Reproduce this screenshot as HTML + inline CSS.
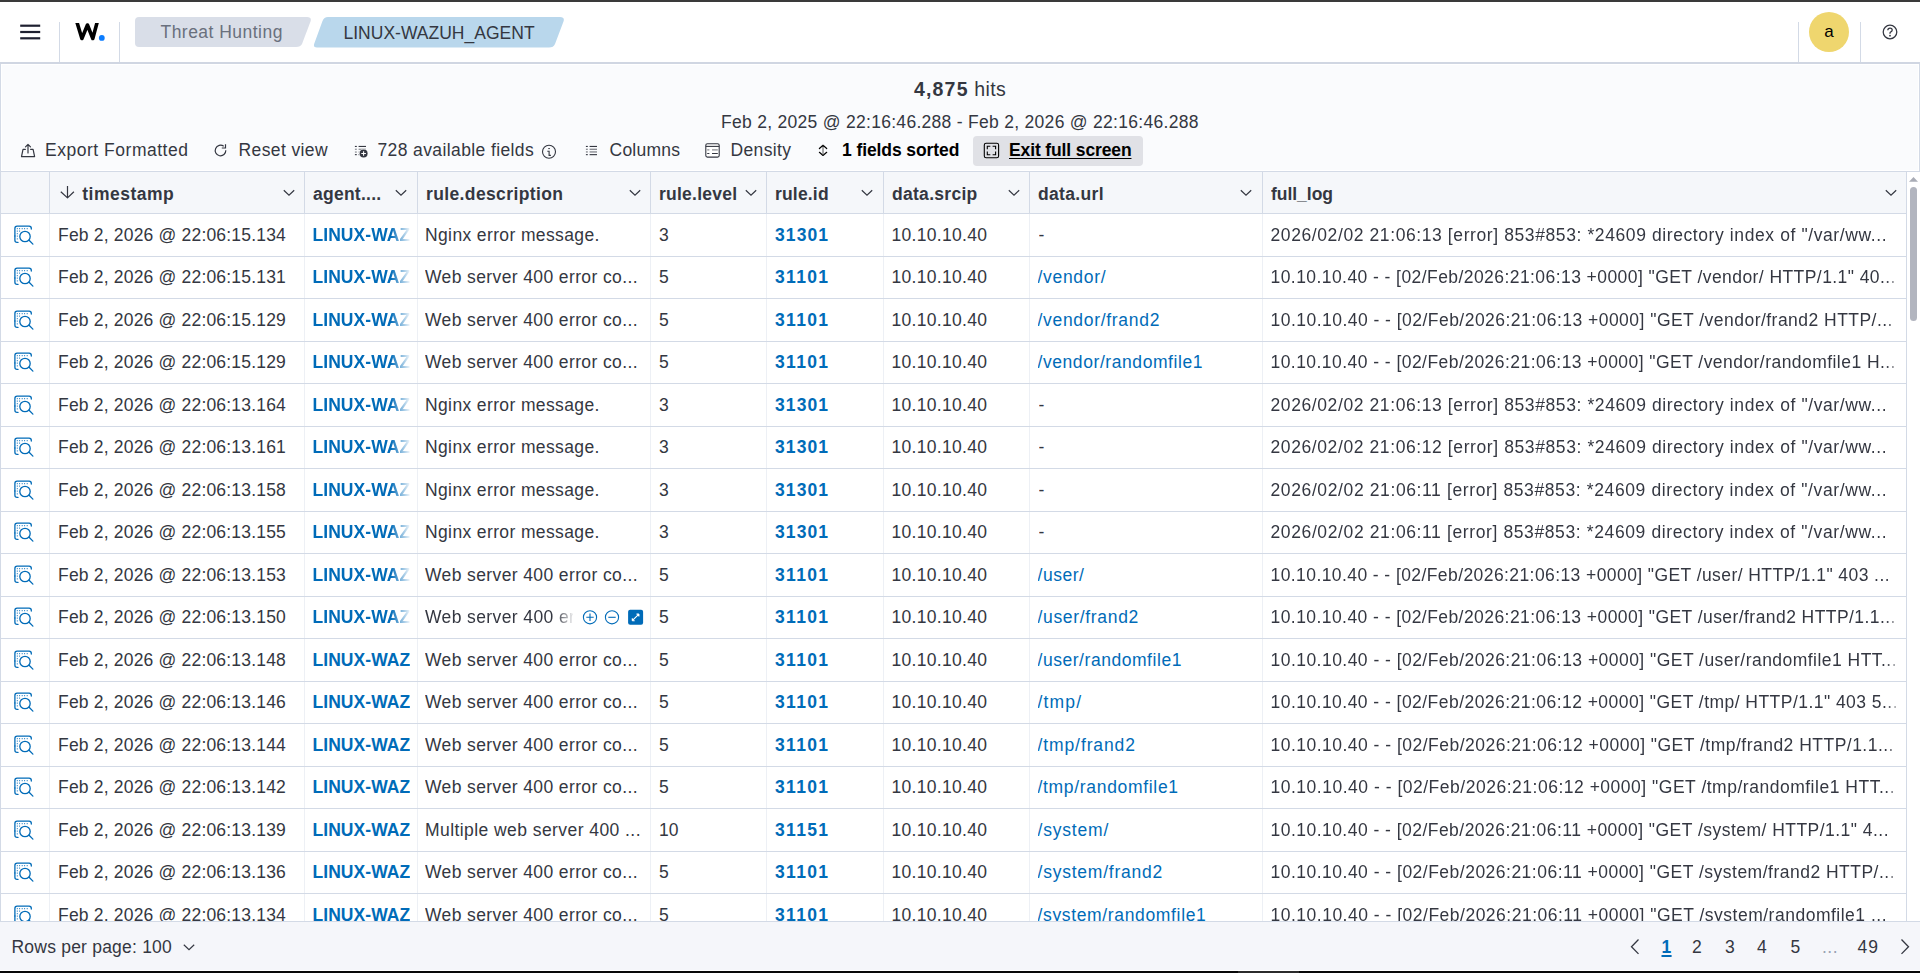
<!DOCTYPE html>
<html><head><meta charset="utf-8"><style>
*{box-sizing:border-box;margin:0;padding:0}
html,body{width:1920px;height:973px;overflow:hidden;background:#fff}
body{font-family:"Liberation Sans",sans-serif;color:#343741;font-size:17.5px;position:relative}
.abs{position:absolute}
#topbar{left:0;top:0;width:1920px;height:2px;background:#3a3a3a}
#hdr{left:0;top:2px;width:1920px;height:60px;background:#fff}
.vdiv{position:absolute;top:22px;width:1px;height:40px;background:#D3DAE6}
#hline{left:0;top:62px;width:1920px;height:2px;background:#D0D6E2}
#tb{left:0;top:64px;width:1920px;height:108px;background:#FAFBFD;border-left:1px solid #D3DAE6;border-right:1px solid #D3DAE6;border-bottom:1px solid #D3DAE6;box-shadow:inset 0 0 0 1px #fff}
.t{position:absolute;white-space:nowrap;line-height:20px;letter-spacing:.35px}
.crumb{position:absolute;top:17px;height:30px}
#grid{left:0;top:172px;width:1920px;height:749px;overflow:hidden}
.hrow{position:absolute;left:0;top:0;width:1906px;height:41.5px;background:#F5F7FA;border-bottom:1px solid #D3DAE6}
.row{position:absolute;left:0;width:1906px;height:42.5px;background:#fff}
.hl{position:absolute;left:0;width:1906px;height:1px;background:#D3DAE6}
.c{position:absolute;top:0;height:100%;overflow:hidden;white-space:nowrap;line-height:42.5px}
.vl{position:absolute;top:0;width:1px;height:100%;background:#EDF0F5}
.hvl{position:absolute;top:0;width:1px;height:100%;background:#D3DAE6}
.hc{font-weight:700;top:.6px}
.lnk{color:#006BB8}
.b{font-weight:700}
.chev{position:absolute;top:16.8px}
.insp{position:absolute;left:14px;top:11px}
#foot{left:0;top:921px;width:1920px;height:49px;background:#F5F6FA;border-top:1px solid #D3DAE6}
#bot{left:0;top:971px;width:1920px;height:2px;background:#080808}
</style></head><body>

<div id="topbar" class="abs"></div>
<div id="hdr" class="abs">
<svg class="abs" style="left:20px;top:20px" width="21" height="20" viewBox="0 0 21 20"><g fill="#1E2030"><rect x="0.2" y="2.6" width="20" height="2.2"></rect><rect x="0.2" y="8.9" width="20" height="2.2"></rect><rect x="0.2" y="15.2" width="20" height="2.2"></rect></g></svg>
<div class="vdiv" style="left:59px;top:20px"></div>
<svg class="abs" style="left:0;top:-2px" width="120" height="62" viewBox="0 0 120 62"><clipPath id="wc"><rect x="70" y="23" width="35" height="20"></rect></clipPath><path clip-path="url(#wc)" d="M76.29 20 L77.2 23 L81.9 38.5 L87.45 25 L92.8 38.5 L96.95 23 L97.75 20" fill="none" stroke="#000" stroke-width="3.6" stroke-linejoin="round"></path><circle cx="101.8" cy="37.9" r="2.9" fill="#0B7CFF"></circle></svg>
<div class="vdiv" style="left:119px;top:20px"></div>
<svg class="abs" style="left:134px;top:13px" width="440" height="34" viewBox="0 0 440 34"><path d="M5 2 H173 Q178 2 176.5 6.5 L168 29 Q166.5 32 162 32 H5 Q1 32 1 28 V6 Q1 2 5 2 Z" fill="#D9DEE8"></path><path d="M194 2 H426 Q431 2 429.5 6.5 L421 29 Q419.5 32.5 415 32.5 H183 Q178.8 32.5 180.3 28.5 L188.5 6 Q190 2 194 2 Z" fill="#B9D7EC"></path></svg>
<div class="t" style="left: 160.5px; top: 19.5px; color: rgb(105, 112, 125); font-size: 17.5px; letter-spacing: 0.472px;">Threat Hunting</div>
<div class="t" style="left: 343.5px; top: 21px; color: rgb(52, 55, 65); font-size: 17.5px; letter-spacing: 0.012px;">LINUX-WAZUH_AGENT</div>
<div class="vdiv" style="left:1798px;top:20px"></div>
<div class="abs" style="left:1809px;top:10px;width:40px;height:40px;border-radius:50%;background:#EFD66E;text-align:center;line-height:40px;font-size:17px;color:#000">a</div>
<div class="vdiv" style="left:1860px;top:20px"></div>
<svg class="abs" style="left:1882px;top:22px" width="16" height="16" viewBox="0 0 16 16"><circle cx="8" cy="8" r="6.8" fill="none" stroke="#343741" stroke-width="1.25"></circle><path d="M5.8 6.3 Q5.8 4.1 8 4.1 Q10.2 4.1 10.2 6 Q10.2 7.2 8.8 7.8 Q8 8.1 8 9.3 V9.7" fill="none" stroke="#343741" stroke-width="1.3"></path><circle cx="8" cy="11.7" r=".9" fill="#343741"></circle></svg>
</div>
<div id="hline" class="abs"></div>
<div id="tb" class="abs"></div>
<div class="t" style="left:914px;top:78px;font-size:19.5px;line-height:22px;letter-spacing:.2px"><span class="b" style="letter-spacing: 1.172px;">4,875</span> <span style="letter-spacing: 0.38px;">hits</span></div>
<div class="t" style="left: 721px; top: 111.7px; font-size: 17.5px; letter-spacing: 0.291px;">Feb 2, 2025 @ 22:16:46.288 - Feb 2, 2026 @ 22:16:46.288</div>
<svg class="abs" style="left:16px;top:138px" width="24" height="24" viewBox="0 0 24 24"><g fill="none" stroke="#343741" stroke-width="1.2" stroke-linejoin="round" stroke-linecap="round"><path d="M9.4 11.3 H7 L5.5 18.6 H18.6 L17.1 11.3 H14.6"></path><path d="M12 15 V6.4 M9.5 8.8 L12 6.3 L14.5 8.8"></path></g></svg>
<div class="t" style="left: 45px; top: 140px; letter-spacing: 0.52px;">Export Formatted</div>
<svg class="abs" style="left:208px;top:138px" width="24" height="24" viewBox="0 0 24 24"><g fill="none" stroke="#343741" stroke-width="1.2"><path d="M15.7 8.3 A5.3 5.3 0 1 0 17.8 12.3"></path><path d="M17.5 6.2 V10 H13.8"></path></g></svg>
<div class="t" style="left: 238.5px; top: 140px; letter-spacing: 0.39px;">Reset view</div>
<svg class="abs" style="left:349px;top:140px" width="24" height="24" viewBox="0 0 24 24"><g fill="#343741"><rect x="5.9" y="5.9" width="1.9" height="1.1"></rect><rect x="5.9" y="8.7" width="1.9" height="1.1" opacity=".6"></rect><rect x="5.9" y="11.5" width="1.9" height="1.1" opacity=".6"></rect><rect x="5.9" y="14.1" width="1.9" height="1.1"></rect><rect x="9.6" y="5.9" width="7.4" height="1.1"></rect><rect x="9.6" y="8.7" width="7.4" height="1.1" opacity=".6"></rect><rect x="9.6" y="11.5" width="2" height="1.1" opacity=".6"></rect><rect x="9.6" y="14.1" width="2" height="1.1"></rect><circle cx="14.6" cy="13.5" r="4.6" fill="#FAFBFD"></circle><circle cx="14.6" cy="13.5" r="4"></circle></g><path d="M14.6 11.2 V15.8 M12.3 13.5 H16.9" stroke="#fff" stroke-width="1.1"></path></svg>
<div class="t" style="left: 377.5px; top: 140px; letter-spacing: 0.386px;">728 available fields</div>
<svg class="abs" style="left:536px;top:138px" width="24" height="24" viewBox="0 0 24 24"><circle cx="13" cy="13.7" r="6.5" fill="none" stroke="#343741" stroke-width="1.1"></circle><rect x="12.3" y="10" width="1.5" height="1.1" fill="#343741"></rect><path d="M11.3 13.3 H13.1 V17.4 H14.9" fill="none" stroke="#343741" stroke-width="1.1"></path></svg>
<svg class="abs" style="left:580px;top:138px" width="24" height="24" viewBox="0 0 24 24"><g fill="#343741"><rect x="5.9" y="7.9" width="1.9" height="1.1"></rect><rect x="9.6" y="7.9" width="7.4" height="1.1"></rect><rect x="5.9" y="10.7" width="1.9" height="1.1" opacity=".7"></rect><rect x="9.6" y="10.7" width="7.4" height="1.1" opacity=".7"></rect><rect x="5.9" y="13.4" width="1.9" height="1.1" opacity=".7"></rect><rect x="9.6" y="13.4" width="7.4" height="1.1" opacity=".7"></rect><rect x="5.9" y="16.1" width="1.9" height="1.1"></rect><rect x="9.6" y="16.1" width="7.4" height="1.1"></rect></g></svg>
<div class="t" style="left: 609.5px; top: 140px; letter-spacing: 0.24px;">Columns</div>
<svg class="abs" style="left:700px;top:138px" width="24" height="24" viewBox="0 0 24 24"><rect x="5.8" y="5.7" width="13.4" height="13.4" rx="1.6" fill="#fff" stroke="#343741" stroke-width="1.1"></rect><path d="M5.8 8.4 H19.2" stroke="#343741" stroke-width="1.1"></path><g fill="#343741"><rect x="7.2" y="11.4" width="2.2" height="1" opacity=".7"></rect><rect x="12" y="11.4" width="5.8" height="1" opacity=".7"></rect><rect x="7.2" y="15" width="2.2" height="1"></rect><rect x="12" y="15" width="5.8" height="1"></rect></g></svg>
<div class="t" style="left: 730.5px; top: 140px; letter-spacing: 0.357px;">Density</div>
<svg class="abs" style="left:810px;top:138px" width="24" height="24" viewBox="0 0 24 24"><g fill="none" stroke="#000" stroke-width="1.2" stroke-linecap="round" stroke-linejoin="round"><path d="M9.4 10.5 L13 7.3 L16.7 10.5"></path><path d="M9.4 14.3 L13 17.5 L16.7 14.3"></path></g><path d="M13 7.6 V17.2" stroke="#555" stroke-width="1"></path></svg>
<div class="t b" style="left: 842px; top: 140px; color: rgb(0, 0, 0); letter-spacing: -0.09px;">1 fields sorted</div>
<div class="abs" style="left:973px;top:136px;width:170px;height:29.5px;border-radius:4px;background:#E0E1E6"></div>
<svg class="abs" style="left:978px;top:138px" width="24" height="24" viewBox="0 0 24 24"><rect x="6.3" y="5.2" width="14.3" height="14.5" rx="1.8" fill="none" stroke="#000" stroke-width="1.1"></rect><g fill="none" stroke="#000" stroke-width="1.1"><path d="M9.3 11.3 V8.2 H12.3 M14.6 8.2 H17.6 V11.3 M9.3 13.6 V16.7 H12.3 M14.6 16.7 H17.6 V13.6"></path></g></svg>
<div class="t b" style="left: 1009px; top: 140px; color: rgb(0, 0, 0); text-decoration: underline; text-underline-offset: 1.5px; letter-spacing: -0.127px;">Exit full screen</div>
<div id="grid" class="abs">
<div class="hrow">
<div class="hvl" style="left:49px"></div>
<div class="hvl" style="left:304px"></div>
<div class="hvl" style="left:417px"></div>
<div class="hvl" style="left:650px"></div>
<div class="hvl" style="left:766px"></div>
<div class="hvl" style="left:883px"></div>
<div class="hvl" style="left:1029px"></div>
<div class="hvl" style="left:1262px"></div>
<svg class="abs" style="left:58px;top:11px" width="18" height="18" viewBox="0 0 18 18"><path d="M9.5 3 V14.3 M2.8 8.7 L9.5 14.9 L15.9 8.7" fill="none" stroke="#343741" stroke-width="1.2" stroke-linejoin="round"></path></svg>
<div class="c hc" style="left:82.3px;width:197.7px"><span style="letter-spacing: 0.484px;">timestamp</span></div>
<svg class="chev" style="left:283.2px" width="12" height="8" viewBox="0 0 12 8"><path d="M0.8 1.2 L6 6.2 L11.2 1.2" fill="none" stroke="#343741" stroke-width="1.2"></path></svg>
<div class="c hc" style="left:313px;width:80px"><span style="letter-spacing: 0.247px;">agent....</span></div>
<svg class="chev" style="left:395.2px" width="12" height="8" viewBox="0 0 12 8"><path d="M0.8 1.2 L6 6.2 L11.2 1.2" fill="none" stroke="#343741" stroke-width="1.2"></path></svg>
<div class="c hc" style="left:426px;width:200px"><span style="letter-spacing: 0.375px;">rule.description</span></div>
<svg class="chev" style="left:629.0px" width="12" height="8" viewBox="0 0 12 8"><path d="M0.8 1.2 L6 6.2 L11.2 1.2" fill="none" stroke="#343741" stroke-width="1.2"></path></svg>
<div class="c hc" style="left:659px;width:83px"><span style="letter-spacing: 0.245px;">rule.level</span></div>
<svg class="chev" style="left:745.2px" width="12" height="8" viewBox="0 0 12 8"><path d="M0.8 1.2 L6 6.2 L11.2 1.2" fill="none" stroke="#343741" stroke-width="1.2"></path></svg>
<div class="c hc" style="left:775px;width:84px"><span style="letter-spacing: 0.181px;">rule.id</span></div>
<svg class="chev" style="left:861.1px" width="12" height="8" viewBox="0 0 12 8"><path d="M0.8 1.2 L6 6.2 L11.2 1.2" fill="none" stroke="#343741" stroke-width="1.2"></path></svg>
<div class="c hc" style="left:892px;width:113px"><span style="letter-spacing: 0.29px;">data.srcip</span></div>
<svg class="chev" style="left:1008.4000000000001px" width="12" height="8" viewBox="0 0 12 8"><path d="M0.8 1.2 L6 6.2 L11.2 1.2" fill="none" stroke="#343741" stroke-width="1.2"></path></svg>
<div class="c hc" style="left:1038px;width:200px"><span style="letter-spacing: 0.326px;">data.url</span></div>
<svg class="chev" style="left:1240.1000000000001px" width="12" height="8" viewBox="0 0 12 8"><path d="M0.8 1.2 L6 6.2 L11.2 1.2" fill="none" stroke="#343741" stroke-width="1.2"></path></svg>
<div class="c hc" style="left:1271px;width:611px"><span style="letter-spacing: -0.031px;">full_log</span></div>
<svg class="chev" style="left:1885.2px" width="12" height="8" viewBox="0 0 12 8"><path d="M0.8 1.2 L6 6.2 L11.2 1.2" fill="none" stroke="#343741" stroke-width="1.2"></path></svg>
</div>
<div class="row" style="top:41.5px">
<div class="vl" style="left:49px"></div>
<div class="vl" style="left:304px"></div>
<div class="vl" style="left:417px"></div>
<div class="vl" style="left:650px"></div>
<div class="vl" style="left:766px"></div>
<div class="vl" style="left:883px"></div>
<div class="vl" style="left:1029px"></div>
<div class="vl" style="left:1262px"></div>
<svg class="insp" width="21" height="21" viewBox="0 0 21 21"><g fill="none" stroke="#006BB8" stroke-width="1.3" stroke-linecap="round"><path d="M0.9 11 V3.4 Q0.9 1.2 3.1 1.2 H15.1 Q17.3 1.2 17.3 3.4 V4"></path><path d="M4 17.4 H3.1 Q0.9 17.4 0.9 15.2 V11"></path><circle cx="11" cy="11.5" r="5.2"></circle><path d="M15.1 15.3 L18.9 19.1"></path></g><g fill="#006BB8"><rect x="2.8" y="3.2" width="1" height="1"></rect><rect x="5.1" y="3.2" width="1" height="1"></rect><rect x="7.7" y="3.2" width="1" height="1"></rect><rect x="10.1" y="3.2" width="1" height="1"></rect><rect x="12.7" y="3.2" width="1" height="1"></rect><rect x="2.8" y="5.6" width="1" height="1"></rect><rect x="5.1" y="5.6" width="1" height="1"></rect><rect x="2.8" y="8.2" width="1" height="1"></rect><rect x="2.8" y="10.6" width="1" height="1"></rect><rect x="2.8" y="13.4" width="1" height="1"></rect></g></svg>
<div class="c" style="left:58px;width:238px"><span style="letter-spacing: 0.189px;">Feb 2, 2026 @ 22:06:15.134</span></div>
<div class="c lnk b" style="left:312.5px;width:97px;letter-spacing:.05px;-webkit-mask-image:linear-gradient(90deg,#000 80%,rgba(0,0,0,.05) 100%)">LINUX-WAZUH_AGENT</div>
<div class="c" style="left:425px;width:224px"><span style="letter-spacing: 0.374px;">Nginx error message.</span></div>
<div class="c" style="left:659px;width:100px">3</div>
<div class="c lnk b" style="left:775px;width:100px"><span style="letter-spacing: 1.107px;">31301</span></div>
<div class="c" style="left:891.5px;width:130px"><span style="letter-spacing: 0.305px;">10.10.10.40</span></div>
<div class="c" style="left:1038.5px;width:216px">-</div>
<div class="c" style="left:1270.5px;width:635px;-webkit-mask-image:linear-gradient(90deg,#000 615px,rgba(0,0,0,.08) 629px)"><span style="letter-spacing: 0.597px;">2026/02/02 21:06:13 [error] 853#853: *24609 directory index of "/var/ww...</span></div>
</div>
<div class="row" style="top:84.0px">
<div class="vl" style="left:49px"></div>
<div class="vl" style="left:304px"></div>
<div class="vl" style="left:417px"></div>
<div class="vl" style="left:650px"></div>
<div class="vl" style="left:766px"></div>
<div class="vl" style="left:883px"></div>
<div class="vl" style="left:1029px"></div>
<div class="vl" style="left:1262px"></div>
<svg class="insp" width="21" height="21" viewBox="0 0 21 21"><g fill="none" stroke="#006BB8" stroke-width="1.3" stroke-linecap="round"><path d="M0.9 11 V3.4 Q0.9 1.2 3.1 1.2 H15.1 Q17.3 1.2 17.3 3.4 V4"></path><path d="M4 17.4 H3.1 Q0.9 17.4 0.9 15.2 V11"></path><circle cx="11" cy="11.5" r="5.2"></circle><path d="M15.1 15.3 L18.9 19.1"></path></g><g fill="#006BB8"><rect x="2.8" y="3.2" width="1" height="1"></rect><rect x="5.1" y="3.2" width="1" height="1"></rect><rect x="7.7" y="3.2" width="1" height="1"></rect><rect x="10.1" y="3.2" width="1" height="1"></rect><rect x="12.7" y="3.2" width="1" height="1"></rect><rect x="2.8" y="5.6" width="1" height="1"></rect><rect x="5.1" y="5.6" width="1" height="1"></rect><rect x="2.8" y="8.2" width="1" height="1"></rect><rect x="2.8" y="10.6" width="1" height="1"></rect><rect x="2.8" y="13.4" width="1" height="1"></rect></g></svg>
<div class="c" style="left:58px;width:238px"><span style="letter-spacing: 0.189px;">Feb 2, 2026 @ 22:06:15.131</span></div>
<div class="c lnk b" style="left:312.5px;width:97px;letter-spacing:.05px;-webkit-mask-image:linear-gradient(90deg,#000 80%,rgba(0,0,0,.05) 100%)">LINUX-WAZUH_AGENT</div>
<div class="c" style="left:425px;width:224px"><span style="letter-spacing: 0.382px;">Web server 400 error co...</span></div>
<div class="c" style="left:659px;width:100px">5</div>
<div class="c lnk b" style="left:775px;width:100px"><span style="letter-spacing: 1.349px;">31101</span></div>
<div class="c" style="left:891.5px;width:130px"><span style="letter-spacing: 0.305px;">10.10.10.40</span></div>
<div class="c lnk" style="left:1037.5px;width:216px"><span style="letter-spacing: 0.681px;">/vendor/</span></div>
<div class="c" style="left:1270.5px;width:635px;-webkit-mask-image:linear-gradient(90deg,#000 615px,rgba(0,0,0,.08) 629px)"><span style="letter-spacing: 0.433px;">10.10.10.40 - - [02/Feb/2026:21:06:13 +0000] "GET /vendor/ HTTP/1.1" 40...</span></div>
</div>
<div class="row" style="top:126.5px">
<div class="vl" style="left:49px"></div>
<div class="vl" style="left:304px"></div>
<div class="vl" style="left:417px"></div>
<div class="vl" style="left:650px"></div>
<div class="vl" style="left:766px"></div>
<div class="vl" style="left:883px"></div>
<div class="vl" style="left:1029px"></div>
<div class="vl" style="left:1262px"></div>
<svg class="insp" width="21" height="21" viewBox="0 0 21 21"><g fill="none" stroke="#006BB8" stroke-width="1.3" stroke-linecap="round"><path d="M0.9 11 V3.4 Q0.9 1.2 3.1 1.2 H15.1 Q17.3 1.2 17.3 3.4 V4"></path><path d="M4 17.4 H3.1 Q0.9 17.4 0.9 15.2 V11"></path><circle cx="11" cy="11.5" r="5.2"></circle><path d="M15.1 15.3 L18.9 19.1"></path></g><g fill="#006BB8"><rect x="2.8" y="3.2" width="1" height="1"></rect><rect x="5.1" y="3.2" width="1" height="1"></rect><rect x="7.7" y="3.2" width="1" height="1"></rect><rect x="10.1" y="3.2" width="1" height="1"></rect><rect x="12.7" y="3.2" width="1" height="1"></rect><rect x="2.8" y="5.6" width="1" height="1"></rect><rect x="5.1" y="5.6" width="1" height="1"></rect><rect x="2.8" y="8.2" width="1" height="1"></rect><rect x="2.8" y="10.6" width="1" height="1"></rect><rect x="2.8" y="13.4" width="1" height="1"></rect></g></svg>
<div class="c" style="left:58px;width:238px"><span style="letter-spacing: 0.189px;">Feb 2, 2026 @ 22:06:15.129</span></div>
<div class="c lnk b" style="left:312.5px;width:97px;letter-spacing:.05px;-webkit-mask-image:linear-gradient(90deg,#000 80%,rgba(0,0,0,.05) 100%)">LINUX-WAZUH_AGENT</div>
<div class="c" style="left:425px;width:224px"><span style="letter-spacing: 0.382px;">Web server 400 error co...</span></div>
<div class="c" style="left:659px;width:100px">5</div>
<div class="c lnk b" style="left:775px;width:100px"><span style="letter-spacing: 1.349px;">31101</span></div>
<div class="c" style="left:891.5px;width:130px"><span style="letter-spacing: 0.305px;">10.10.10.40</span></div>
<div class="c lnk" style="left:1037.5px;width:216px"><span style="letter-spacing: 0.695px;">/vendor/frand2</span></div>
<div class="c" style="left:1270.5px;width:635px;-webkit-mask-image:linear-gradient(90deg,#000 615px,rgba(0,0,0,.08) 629px)"><span style="letter-spacing: 0.47px;">10.10.10.40 - - [02/Feb/2026:21:06:13 +0000] "GET /vendor/frand2 HTTP/...</span></div>
</div>
<div class="row" style="top:169.0px">
<div class="vl" style="left:49px"></div>
<div class="vl" style="left:304px"></div>
<div class="vl" style="left:417px"></div>
<div class="vl" style="left:650px"></div>
<div class="vl" style="left:766px"></div>
<div class="vl" style="left:883px"></div>
<div class="vl" style="left:1029px"></div>
<div class="vl" style="left:1262px"></div>
<svg class="insp" width="21" height="21" viewBox="0 0 21 21"><g fill="none" stroke="#006BB8" stroke-width="1.3" stroke-linecap="round"><path d="M0.9 11 V3.4 Q0.9 1.2 3.1 1.2 H15.1 Q17.3 1.2 17.3 3.4 V4"></path><path d="M4 17.4 H3.1 Q0.9 17.4 0.9 15.2 V11"></path><circle cx="11" cy="11.5" r="5.2"></circle><path d="M15.1 15.3 L18.9 19.1"></path></g><g fill="#006BB8"><rect x="2.8" y="3.2" width="1" height="1"></rect><rect x="5.1" y="3.2" width="1" height="1"></rect><rect x="7.7" y="3.2" width="1" height="1"></rect><rect x="10.1" y="3.2" width="1" height="1"></rect><rect x="12.7" y="3.2" width="1" height="1"></rect><rect x="2.8" y="5.6" width="1" height="1"></rect><rect x="5.1" y="5.6" width="1" height="1"></rect><rect x="2.8" y="8.2" width="1" height="1"></rect><rect x="2.8" y="10.6" width="1" height="1"></rect><rect x="2.8" y="13.4" width="1" height="1"></rect></g></svg>
<div class="c" style="left:58px;width:238px"><span style="letter-spacing: 0.189px;">Feb 2, 2026 @ 22:06:15.129</span></div>
<div class="c lnk b" style="left:312.5px;width:97px;letter-spacing:.05px;-webkit-mask-image:linear-gradient(90deg,#000 80%,rgba(0,0,0,.05) 100%)">LINUX-WAZUH_AGENT</div>
<div class="c" style="left:425px;width:224px"><span style="letter-spacing: 0.382px;">Web server 400 error co...</span></div>
<div class="c" style="left:659px;width:100px">5</div>
<div class="c lnk b" style="left:775px;width:100px"><span style="letter-spacing: 1.349px;">31101</span></div>
<div class="c" style="left:891.5px;width:130px"><span style="letter-spacing: 0.305px;">10.10.10.40</span></div>
<div class="c lnk" style="left:1037.5px;width:216px"><span style="letter-spacing: 0.574px;">/vendor/randomfile1</span></div>
<div class="c" style="left:1270.5px;width:635px;-webkit-mask-image:linear-gradient(90deg,#000 615px,rgba(0,0,0,.08) 629px)"><span style="letter-spacing: 0.451px;">10.10.10.40 - - [02/Feb/2026:21:06:13 +0000] "GET /vendor/randomfile1 H...</span></div>
</div>
<div class="row" style="top:211.5px">
<div class="vl" style="left:49px"></div>
<div class="vl" style="left:304px"></div>
<div class="vl" style="left:417px"></div>
<div class="vl" style="left:650px"></div>
<div class="vl" style="left:766px"></div>
<div class="vl" style="left:883px"></div>
<div class="vl" style="left:1029px"></div>
<div class="vl" style="left:1262px"></div>
<svg class="insp" width="21" height="21" viewBox="0 0 21 21"><g fill="none" stroke="#006BB8" stroke-width="1.3" stroke-linecap="round"><path d="M0.9 11 V3.4 Q0.9 1.2 3.1 1.2 H15.1 Q17.3 1.2 17.3 3.4 V4"></path><path d="M4 17.4 H3.1 Q0.9 17.4 0.9 15.2 V11"></path><circle cx="11" cy="11.5" r="5.2"></circle><path d="M15.1 15.3 L18.9 19.1"></path></g><g fill="#006BB8"><rect x="2.8" y="3.2" width="1" height="1"></rect><rect x="5.1" y="3.2" width="1" height="1"></rect><rect x="7.7" y="3.2" width="1" height="1"></rect><rect x="10.1" y="3.2" width="1" height="1"></rect><rect x="12.7" y="3.2" width="1" height="1"></rect><rect x="2.8" y="5.6" width="1" height="1"></rect><rect x="5.1" y="5.6" width="1" height="1"></rect><rect x="2.8" y="8.2" width="1" height="1"></rect><rect x="2.8" y="10.6" width="1" height="1"></rect><rect x="2.8" y="13.4" width="1" height="1"></rect></g></svg>
<div class="c" style="left:58px;width:238px"><span style="letter-spacing: 0.189px;">Feb 2, 2026 @ 22:06:13.164</span></div>
<div class="c lnk b" style="left:312.5px;width:97px;letter-spacing:.05px;-webkit-mask-image:linear-gradient(90deg,#000 80%,rgba(0,0,0,.05) 100%)">LINUX-WAZUH_AGENT</div>
<div class="c" style="left:425px;width:224px"><span style="letter-spacing: 0.374px;">Nginx error message.</span></div>
<div class="c" style="left:659px;width:100px">3</div>
<div class="c lnk b" style="left:775px;width:100px"><span style="letter-spacing: 1.107px;">31301</span></div>
<div class="c" style="left:891.5px;width:130px"><span style="letter-spacing: 0.305px;">10.10.10.40</span></div>
<div class="c" style="left:1038.5px;width:216px">-</div>
<div class="c" style="left:1270.5px;width:635px;-webkit-mask-image:linear-gradient(90deg,#000 615px,rgba(0,0,0,.08) 629px)"><span style="letter-spacing: 0.597px;">2026/02/02 21:06:13 [error] 853#853: *24609 directory index of "/var/ww...</span></div>
</div>
<div class="row" style="top:254.0px">
<div class="vl" style="left:49px"></div>
<div class="vl" style="left:304px"></div>
<div class="vl" style="left:417px"></div>
<div class="vl" style="left:650px"></div>
<div class="vl" style="left:766px"></div>
<div class="vl" style="left:883px"></div>
<div class="vl" style="left:1029px"></div>
<div class="vl" style="left:1262px"></div>
<svg class="insp" width="21" height="21" viewBox="0 0 21 21"><g fill="none" stroke="#006BB8" stroke-width="1.3" stroke-linecap="round"><path d="M0.9 11 V3.4 Q0.9 1.2 3.1 1.2 H15.1 Q17.3 1.2 17.3 3.4 V4"></path><path d="M4 17.4 H3.1 Q0.9 17.4 0.9 15.2 V11"></path><circle cx="11" cy="11.5" r="5.2"></circle><path d="M15.1 15.3 L18.9 19.1"></path></g><g fill="#006BB8"><rect x="2.8" y="3.2" width="1" height="1"></rect><rect x="5.1" y="3.2" width="1" height="1"></rect><rect x="7.7" y="3.2" width="1" height="1"></rect><rect x="10.1" y="3.2" width="1" height="1"></rect><rect x="12.7" y="3.2" width="1" height="1"></rect><rect x="2.8" y="5.6" width="1" height="1"></rect><rect x="5.1" y="5.6" width="1" height="1"></rect><rect x="2.8" y="8.2" width="1" height="1"></rect><rect x="2.8" y="10.6" width="1" height="1"></rect><rect x="2.8" y="13.4" width="1" height="1"></rect></g></svg>
<div class="c" style="left:58px;width:238px"><span style="letter-spacing: 0.189px;">Feb 2, 2026 @ 22:06:13.161</span></div>
<div class="c lnk b" style="left:312.5px;width:97px;letter-spacing:.05px;-webkit-mask-image:linear-gradient(90deg,#000 80%,rgba(0,0,0,.05) 100%)">LINUX-WAZUH_AGENT</div>
<div class="c" style="left:425px;width:224px"><span style="letter-spacing: 0.374px;">Nginx error message.</span></div>
<div class="c" style="left:659px;width:100px">3</div>
<div class="c lnk b" style="left:775px;width:100px"><span style="letter-spacing: 1.107px;">31301</span></div>
<div class="c" style="left:891.5px;width:130px"><span style="letter-spacing: 0.305px;">10.10.10.40</span></div>
<div class="c" style="left:1038.5px;width:216px">-</div>
<div class="c" style="left:1270.5px;width:635px;-webkit-mask-image:linear-gradient(90deg,#000 615px,rgba(0,0,0,.08) 629px)"><span style="letter-spacing: 0.597px;">2026/02/02 21:06:12 [error] 853#853: *24609 directory index of "/var/ww...</span></div>
</div>
<div class="row" style="top:296.5px">
<div class="vl" style="left:49px"></div>
<div class="vl" style="left:304px"></div>
<div class="vl" style="left:417px"></div>
<div class="vl" style="left:650px"></div>
<div class="vl" style="left:766px"></div>
<div class="vl" style="left:883px"></div>
<div class="vl" style="left:1029px"></div>
<div class="vl" style="left:1262px"></div>
<svg class="insp" width="21" height="21" viewBox="0 0 21 21"><g fill="none" stroke="#006BB8" stroke-width="1.3" stroke-linecap="round"><path d="M0.9 11 V3.4 Q0.9 1.2 3.1 1.2 H15.1 Q17.3 1.2 17.3 3.4 V4"></path><path d="M4 17.4 H3.1 Q0.9 17.4 0.9 15.2 V11"></path><circle cx="11" cy="11.5" r="5.2"></circle><path d="M15.1 15.3 L18.9 19.1"></path></g><g fill="#006BB8"><rect x="2.8" y="3.2" width="1" height="1"></rect><rect x="5.1" y="3.2" width="1" height="1"></rect><rect x="7.7" y="3.2" width="1" height="1"></rect><rect x="10.1" y="3.2" width="1" height="1"></rect><rect x="12.7" y="3.2" width="1" height="1"></rect><rect x="2.8" y="5.6" width="1" height="1"></rect><rect x="5.1" y="5.6" width="1" height="1"></rect><rect x="2.8" y="8.2" width="1" height="1"></rect><rect x="2.8" y="10.6" width="1" height="1"></rect><rect x="2.8" y="13.4" width="1" height="1"></rect></g></svg>
<div class="c" style="left:58px;width:238px"><span style="letter-spacing: 0.189px;">Feb 2, 2026 @ 22:06:13.158</span></div>
<div class="c lnk b" style="left:312.5px;width:97px;letter-spacing:.05px;-webkit-mask-image:linear-gradient(90deg,#000 80%,rgba(0,0,0,.05) 100%)">LINUX-WAZUH_AGENT</div>
<div class="c" style="left:425px;width:224px"><span style="letter-spacing: 0.374px;">Nginx error message.</span></div>
<div class="c" style="left:659px;width:100px">3</div>
<div class="c lnk b" style="left:775px;width:100px"><span style="letter-spacing: 1.107px;">31301</span></div>
<div class="c" style="left:891.5px;width:130px"><span style="letter-spacing: 0.305px;">10.10.10.40</span></div>
<div class="c" style="left:1038.5px;width:216px">-</div>
<div class="c" style="left:1270.5px;width:635px;-webkit-mask-image:linear-gradient(90deg,#000 615px,rgba(0,0,0,.08) 629px)"><span style="letter-spacing: 0.615px;">2026/02/02 21:06:11 [error] 853#853: *24609 directory index of "/var/ww...</span></div>
</div>
<div class="row" style="top:339.0px">
<div class="vl" style="left:49px"></div>
<div class="vl" style="left:304px"></div>
<div class="vl" style="left:417px"></div>
<div class="vl" style="left:650px"></div>
<div class="vl" style="left:766px"></div>
<div class="vl" style="left:883px"></div>
<div class="vl" style="left:1029px"></div>
<div class="vl" style="left:1262px"></div>
<svg class="insp" width="21" height="21" viewBox="0 0 21 21"><g fill="none" stroke="#006BB8" stroke-width="1.3" stroke-linecap="round"><path d="M0.9 11 V3.4 Q0.9 1.2 3.1 1.2 H15.1 Q17.3 1.2 17.3 3.4 V4"></path><path d="M4 17.4 H3.1 Q0.9 17.4 0.9 15.2 V11"></path><circle cx="11" cy="11.5" r="5.2"></circle><path d="M15.1 15.3 L18.9 19.1"></path></g><g fill="#006BB8"><rect x="2.8" y="3.2" width="1" height="1"></rect><rect x="5.1" y="3.2" width="1" height="1"></rect><rect x="7.7" y="3.2" width="1" height="1"></rect><rect x="10.1" y="3.2" width="1" height="1"></rect><rect x="12.7" y="3.2" width="1" height="1"></rect><rect x="2.8" y="5.6" width="1" height="1"></rect><rect x="5.1" y="5.6" width="1" height="1"></rect><rect x="2.8" y="8.2" width="1" height="1"></rect><rect x="2.8" y="10.6" width="1" height="1"></rect><rect x="2.8" y="13.4" width="1" height="1"></rect></g></svg>
<div class="c" style="left:58px;width:238px"><span style="letter-spacing: 0.189px;">Feb 2, 2026 @ 22:06:13.155</span></div>
<div class="c lnk b" style="left:312.5px;width:97px;letter-spacing:.05px;-webkit-mask-image:linear-gradient(90deg,#000 80%,rgba(0,0,0,.05) 100%)">LINUX-WAZUH_AGENT</div>
<div class="c" style="left:425px;width:224px"><span style="letter-spacing: 0.374px;">Nginx error message.</span></div>
<div class="c" style="left:659px;width:100px">3</div>
<div class="c lnk b" style="left:775px;width:100px"><span style="letter-spacing: 1.107px;">31301</span></div>
<div class="c" style="left:891.5px;width:130px"><span style="letter-spacing: 0.305px;">10.10.10.40</span></div>
<div class="c" style="left:1038.5px;width:216px">-</div>
<div class="c" style="left:1270.5px;width:635px;-webkit-mask-image:linear-gradient(90deg,#000 615px,rgba(0,0,0,.08) 629px)"><span style="letter-spacing: 0.615px;">2026/02/02 21:06:11 [error] 853#853: *24609 directory index of "/var/ww...</span></div>
</div>
<div class="row" style="top:381.5px">
<div class="vl" style="left:49px"></div>
<div class="vl" style="left:304px"></div>
<div class="vl" style="left:417px"></div>
<div class="vl" style="left:650px"></div>
<div class="vl" style="left:766px"></div>
<div class="vl" style="left:883px"></div>
<div class="vl" style="left:1029px"></div>
<div class="vl" style="left:1262px"></div>
<svg class="insp" width="21" height="21" viewBox="0 0 21 21"><g fill="none" stroke="#006BB8" stroke-width="1.3" stroke-linecap="round"><path d="M0.9 11 V3.4 Q0.9 1.2 3.1 1.2 H15.1 Q17.3 1.2 17.3 3.4 V4"></path><path d="M4 17.4 H3.1 Q0.9 17.4 0.9 15.2 V11"></path><circle cx="11" cy="11.5" r="5.2"></circle><path d="M15.1 15.3 L18.9 19.1"></path></g><g fill="#006BB8"><rect x="2.8" y="3.2" width="1" height="1"></rect><rect x="5.1" y="3.2" width="1" height="1"></rect><rect x="7.7" y="3.2" width="1" height="1"></rect><rect x="10.1" y="3.2" width="1" height="1"></rect><rect x="12.7" y="3.2" width="1" height="1"></rect><rect x="2.8" y="5.6" width="1" height="1"></rect><rect x="5.1" y="5.6" width="1" height="1"></rect><rect x="2.8" y="8.2" width="1" height="1"></rect><rect x="2.8" y="10.6" width="1" height="1"></rect><rect x="2.8" y="13.4" width="1" height="1"></rect></g></svg>
<div class="c" style="left:58px;width:238px"><span style="letter-spacing: 0.189px;">Feb 2, 2026 @ 22:06:13.153</span></div>
<div class="c lnk b" style="left:312.5px;width:97px;letter-spacing:.05px;-webkit-mask-image:linear-gradient(90deg,#000 80%,rgba(0,0,0,.05) 100%)">LINUX-WAZUH_AGENT</div>
<div class="c" style="left:425px;width:224px"><span style="letter-spacing: 0.382px;">Web server 400 error co...</span></div>
<div class="c" style="left:659px;width:100px">5</div>
<div class="c lnk b" style="left:775px;width:100px"><span style="letter-spacing: 1.349px;">31101</span></div>
<div class="c" style="left:891.5px;width:130px"><span style="letter-spacing: 0.305px;">10.10.10.40</span></div>
<div class="c lnk" style="left:1037.5px;width:216px"><span style="letter-spacing: 0.524px;">/user/</span></div>
<div class="c" style="left:1270.5px;width:635px;-webkit-mask-image:linear-gradient(90deg,#000 615px,rgba(0,0,0,.08) 629px)"><span style="letter-spacing: 0.418px;">10.10.10.40 - - [02/Feb/2026:21:06:13 +0000] "GET /user/ HTTP/1.1" 403 ...</span></div>
</div>
<div class="row" style="top:424.0px">
<div class="vl" style="left:49px"></div>
<div class="vl" style="left:304px"></div>
<div class="vl" style="left:417px"></div>
<div class="vl" style="left:650px"></div>
<div class="vl" style="left:766px"></div>
<div class="vl" style="left:883px"></div>
<div class="vl" style="left:1029px"></div>
<div class="vl" style="left:1262px"></div>
<svg class="insp" width="21" height="21" viewBox="0 0 21 21"><g fill="none" stroke="#006BB8" stroke-width="1.3" stroke-linecap="round"><path d="M0.9 11 V3.4 Q0.9 1.2 3.1 1.2 H15.1 Q17.3 1.2 17.3 3.4 V4"></path><path d="M4 17.4 H3.1 Q0.9 17.4 0.9 15.2 V11"></path><circle cx="11" cy="11.5" r="5.2"></circle><path d="M15.1 15.3 L18.9 19.1"></path></g><g fill="#006BB8"><rect x="2.8" y="3.2" width="1" height="1"></rect><rect x="5.1" y="3.2" width="1" height="1"></rect><rect x="7.7" y="3.2" width="1" height="1"></rect><rect x="10.1" y="3.2" width="1" height="1"></rect><rect x="12.7" y="3.2" width="1" height="1"></rect><rect x="2.8" y="5.6" width="1" height="1"></rect><rect x="5.1" y="5.6" width="1" height="1"></rect><rect x="2.8" y="8.2" width="1" height="1"></rect><rect x="2.8" y="10.6" width="1" height="1"></rect><rect x="2.8" y="13.4" width="1" height="1"></rect></g></svg>
<div class="c" style="left:58px;width:238px"><span style="letter-spacing: 0.189px;">Feb 2, 2026 @ 22:06:13.150</span></div>
<div class="c lnk b" style="left:312.5px;width:97px;letter-spacing:.05px;-webkit-mask-image:linear-gradient(90deg,#000 80%,rgba(0,0,0,.05) 100%)">LINUX-WAZUH_AGENT</div>
<div class="c" style="left:425px;width:148px;-webkit-mask-image:linear-gradient(90deg,#000 88%,rgba(0,0,0,.1) 100%)"><span style="letter-spacing: 0.391px;">Web server 400 error</span></div>
<svg class="abs" style="left:580px;top:10px" width="66" height="22" viewBox="0 0 66 22"><g fill="none" stroke="#006BB8" stroke-width="1.1"><circle cx="10" cy="11.3" r="6.6"></circle><path d="M10 7.6 V15 M6.3 11.3 H13.7"></path><circle cx="32" cy="11.3" r="6.6"></circle><path d="M28.3 11.3 H35.7"></path></g><rect x="48.1" y="3.8" width="15" height="15" rx="2" fill="#006BB8"></rect><path d="M52.3 14.7 L58.9 8.1 M52.3 14.7 V12.3 M52.3 14.7 H54.7 M58.9 8.1 H56.5 M58.9 8.1 V10.5" fill="none" stroke="#fff" stroke-width="1.1"></path></svg>
<div class="c" style="left:659px;width:100px">5</div>
<div class="c lnk b" style="left:775px;width:100px"><span style="letter-spacing: 1.349px;">31101</span></div>
<div class="c" style="left:891.5px;width:130px"><span style="letter-spacing: 0.305px;">10.10.10.40</span></div>
<div class="c lnk" style="left:1037.5px;width:216px"><span style="letter-spacing: 0.674px;">/user/frand2</span></div>
<div class="c" style="left:1270.5px;width:635px;-webkit-mask-image:linear-gradient(90deg,#000 615px,rgba(0,0,0,.08) 629px)"><span style="letter-spacing: 0.438px;">10.10.10.40 - - [02/Feb/2026:21:06:13 +0000] "GET /user/frand2 HTTP/1.1...</span></div>
</div>
<div class="row" style="top:466.5px">
<div class="vl" style="left:49px"></div>
<div class="vl" style="left:304px"></div>
<div class="vl" style="left:417px"></div>
<div class="vl" style="left:650px"></div>
<div class="vl" style="left:766px"></div>
<div class="vl" style="left:883px"></div>
<div class="vl" style="left:1029px"></div>
<div class="vl" style="left:1262px"></div>
<svg class="insp" width="21" height="21" viewBox="0 0 21 21"><g fill="none" stroke="#006BB8" stroke-width="1.3" stroke-linecap="round"><path d="M0.9 11 V3.4 Q0.9 1.2 3.1 1.2 H15.1 Q17.3 1.2 17.3 3.4 V4"></path><path d="M4 17.4 H3.1 Q0.9 17.4 0.9 15.2 V11"></path><circle cx="11" cy="11.5" r="5.2"></circle><path d="M15.1 15.3 L18.9 19.1"></path></g><g fill="#006BB8"><rect x="2.8" y="3.2" width="1" height="1"></rect><rect x="5.1" y="3.2" width="1" height="1"></rect><rect x="7.7" y="3.2" width="1" height="1"></rect><rect x="10.1" y="3.2" width="1" height="1"></rect><rect x="12.7" y="3.2" width="1" height="1"></rect><rect x="2.8" y="5.6" width="1" height="1"></rect><rect x="5.1" y="5.6" width="1" height="1"></rect><rect x="2.8" y="8.2" width="1" height="1"></rect><rect x="2.8" y="10.6" width="1" height="1"></rect><rect x="2.8" y="13.4" width="1" height="1"></rect></g></svg>
<div class="c" style="left:58px;width:238px"><span style="letter-spacing: 0.189px;">Feb 2, 2026 @ 22:06:13.148</span></div>
<div class="c lnk b" style="left:312.5px;width:97px;letter-spacing:.05px">LINUX-WAZUH_AGENT</div>
<div class="c" style="left:425px;width:224px"><span style="letter-spacing: 0.382px;">Web server 400 error co...</span></div>
<div class="c" style="left:659px;width:100px">5</div>
<div class="c lnk b" style="left:775px;width:100px"><span style="letter-spacing: 1.349px;">31101</span></div>
<div class="c" style="left:891.5px;width:130px"><span style="letter-spacing: 0.305px;">10.10.10.40</span></div>
<div class="c lnk" style="left:1037.5px;width:216px"><span style="letter-spacing: 0.543px;">/user/randomfile1</span></div>
<div class="c" style="left:1270.5px;width:635px;-webkit-mask-image:linear-gradient(90deg,#000 615px,rgba(0,0,0,.08) 629px)"><span style="letter-spacing: 0.466px;">10.10.10.40 - - [02/Feb/2026:21:06:13 +0000] "GET /user/randomfile1 HTT...</span></div>
</div>
<div class="row" style="top:509.0px">
<div class="vl" style="left:49px"></div>
<div class="vl" style="left:304px"></div>
<div class="vl" style="left:417px"></div>
<div class="vl" style="left:650px"></div>
<div class="vl" style="left:766px"></div>
<div class="vl" style="left:883px"></div>
<div class="vl" style="left:1029px"></div>
<div class="vl" style="left:1262px"></div>
<svg class="insp" width="21" height="21" viewBox="0 0 21 21"><g fill="none" stroke="#006BB8" stroke-width="1.3" stroke-linecap="round"><path d="M0.9 11 V3.4 Q0.9 1.2 3.1 1.2 H15.1 Q17.3 1.2 17.3 3.4 V4"></path><path d="M4 17.4 H3.1 Q0.9 17.4 0.9 15.2 V11"></path><circle cx="11" cy="11.5" r="5.2"></circle><path d="M15.1 15.3 L18.9 19.1"></path></g><g fill="#006BB8"><rect x="2.8" y="3.2" width="1" height="1"></rect><rect x="5.1" y="3.2" width="1" height="1"></rect><rect x="7.7" y="3.2" width="1" height="1"></rect><rect x="10.1" y="3.2" width="1" height="1"></rect><rect x="12.7" y="3.2" width="1" height="1"></rect><rect x="2.8" y="5.6" width="1" height="1"></rect><rect x="5.1" y="5.6" width="1" height="1"></rect><rect x="2.8" y="8.2" width="1" height="1"></rect><rect x="2.8" y="10.6" width="1" height="1"></rect><rect x="2.8" y="13.4" width="1" height="1"></rect></g></svg>
<div class="c" style="left:58px;width:238px"><span style="letter-spacing: 0.189px;">Feb 2, 2026 @ 22:06:13.146</span></div>
<div class="c lnk b" style="left:312.5px;width:97px;letter-spacing:.05px">LINUX-WAZUH_AGENT</div>
<div class="c" style="left:425px;width:224px"><span style="letter-spacing: 0.382px;">Web server 400 error co...</span></div>
<div class="c" style="left:659px;width:100px">5</div>
<div class="c lnk b" style="left:775px;width:100px"><span style="letter-spacing: 1.349px;">31101</span></div>
<div class="c" style="left:891.5px;width:130px"><span style="letter-spacing: 0.305px;">10.10.10.40</span></div>
<div class="c lnk" style="left:1037.5px;width:216px"><span style="letter-spacing: 1.173px;">/tmp/</span></div>
<div class="c" style="left:1270.5px;width:635px;-webkit-mask-image:linear-gradient(90deg,#000 615px,rgba(0,0,0,.08) 629px)"><span style="letter-spacing: 0.461px;">10.10.10.40 - - [02/Feb/2026:21:06:12 +0000] "GET /tmp/ HTTP/1.1" 403 5...</span></div>
</div>
<div class="row" style="top:551.5px">
<div class="vl" style="left:49px"></div>
<div class="vl" style="left:304px"></div>
<div class="vl" style="left:417px"></div>
<div class="vl" style="left:650px"></div>
<div class="vl" style="left:766px"></div>
<div class="vl" style="left:883px"></div>
<div class="vl" style="left:1029px"></div>
<div class="vl" style="left:1262px"></div>
<svg class="insp" width="21" height="21" viewBox="0 0 21 21"><g fill="none" stroke="#006BB8" stroke-width="1.3" stroke-linecap="round"><path d="M0.9 11 V3.4 Q0.9 1.2 3.1 1.2 H15.1 Q17.3 1.2 17.3 3.4 V4"></path><path d="M4 17.4 H3.1 Q0.9 17.4 0.9 15.2 V11"></path><circle cx="11" cy="11.5" r="5.2"></circle><path d="M15.1 15.3 L18.9 19.1"></path></g><g fill="#006BB8"><rect x="2.8" y="3.2" width="1" height="1"></rect><rect x="5.1" y="3.2" width="1" height="1"></rect><rect x="7.7" y="3.2" width="1" height="1"></rect><rect x="10.1" y="3.2" width="1" height="1"></rect><rect x="12.7" y="3.2" width="1" height="1"></rect><rect x="2.8" y="5.6" width="1" height="1"></rect><rect x="5.1" y="5.6" width="1" height="1"></rect><rect x="2.8" y="8.2" width="1" height="1"></rect><rect x="2.8" y="10.6" width="1" height="1"></rect><rect x="2.8" y="13.4" width="1" height="1"></rect></g></svg>
<div class="c" style="left:58px;width:238px"><span style="letter-spacing: 0.189px;">Feb 2, 2026 @ 22:06:13.144</span></div>
<div class="c lnk b" style="left:312.5px;width:97px;letter-spacing:.05px">LINUX-WAZUH_AGENT</div>
<div class="c" style="left:425px;width:224px"><span style="letter-spacing: 0.382px;">Web server 400 error co...</span></div>
<div class="c" style="left:659px;width:100px">5</div>
<div class="c lnk b" style="left:775px;width:100px"><span style="letter-spacing: 1.349px;">31101</span></div>
<div class="c" style="left:891.5px;width:130px"><span style="letter-spacing: 0.305px;">10.10.10.40</span></div>
<div class="c lnk" style="left:1037.5px;width:216px"><span style="letter-spacing: 0.897px;">/tmp/frand2</span></div>
<div class="c" style="left:1270.5px;width:635px;-webkit-mask-image:linear-gradient(90deg,#000 615px,rgba(0,0,0,.08) 629px)"><span style="letter-spacing: 0.484px;">10.10.10.40 - - [02/Feb/2026:21:06:12 +0000] "GET /tmp/frand2 HTTP/1.1...</span></div>
</div>
<div class="row" style="top:594.0px">
<div class="vl" style="left:49px"></div>
<div class="vl" style="left:304px"></div>
<div class="vl" style="left:417px"></div>
<div class="vl" style="left:650px"></div>
<div class="vl" style="left:766px"></div>
<div class="vl" style="left:883px"></div>
<div class="vl" style="left:1029px"></div>
<div class="vl" style="left:1262px"></div>
<svg class="insp" width="21" height="21" viewBox="0 0 21 21"><g fill="none" stroke="#006BB8" stroke-width="1.3" stroke-linecap="round"><path d="M0.9 11 V3.4 Q0.9 1.2 3.1 1.2 H15.1 Q17.3 1.2 17.3 3.4 V4"></path><path d="M4 17.4 H3.1 Q0.9 17.4 0.9 15.2 V11"></path><circle cx="11" cy="11.5" r="5.2"></circle><path d="M15.1 15.3 L18.9 19.1"></path></g><g fill="#006BB8"><rect x="2.8" y="3.2" width="1" height="1"></rect><rect x="5.1" y="3.2" width="1" height="1"></rect><rect x="7.7" y="3.2" width="1" height="1"></rect><rect x="10.1" y="3.2" width="1" height="1"></rect><rect x="12.7" y="3.2" width="1" height="1"></rect><rect x="2.8" y="5.6" width="1" height="1"></rect><rect x="5.1" y="5.6" width="1" height="1"></rect><rect x="2.8" y="8.2" width="1" height="1"></rect><rect x="2.8" y="10.6" width="1" height="1"></rect><rect x="2.8" y="13.4" width="1" height="1"></rect></g></svg>
<div class="c" style="left:58px;width:238px"><span style="letter-spacing: 0.189px;">Feb 2, 2026 @ 22:06:13.142</span></div>
<div class="c lnk b" style="left:312.5px;width:97px;letter-spacing:.05px">LINUX-WAZUH_AGENT</div>
<div class="c" style="left:425px;width:224px"><span style="letter-spacing: 0.382px;">Web server 400 error co...</span></div>
<div class="c" style="left:659px;width:100px">5</div>
<div class="c lnk b" style="left:775px;width:100px"><span style="letter-spacing: 1.349px;">31101</span></div>
<div class="c" style="left:891.5px;width:130px"><span style="letter-spacing: 0.305px;">10.10.10.40</span></div>
<div class="c lnk" style="left:1037.5px;width:216px"><span style="letter-spacing: 0.684px;">/tmp/randomfile1</span></div>
<div class="c" style="left:1270.5px;width:635px;-webkit-mask-image:linear-gradient(90deg,#000 615px,rgba(0,0,0,.08) 629px)"><span style="letter-spacing: 0.512px;">10.10.10.40 - - [02/Feb/2026:21:06:12 +0000] "GET /tmp/randomfile1 HTT...</span></div>
</div>
<div class="row" style="top:636.5px">
<div class="vl" style="left:49px"></div>
<div class="vl" style="left:304px"></div>
<div class="vl" style="left:417px"></div>
<div class="vl" style="left:650px"></div>
<div class="vl" style="left:766px"></div>
<div class="vl" style="left:883px"></div>
<div class="vl" style="left:1029px"></div>
<div class="vl" style="left:1262px"></div>
<svg class="insp" width="21" height="21" viewBox="0 0 21 21"><g fill="none" stroke="#006BB8" stroke-width="1.3" stroke-linecap="round"><path d="M0.9 11 V3.4 Q0.9 1.2 3.1 1.2 H15.1 Q17.3 1.2 17.3 3.4 V4"></path><path d="M4 17.4 H3.1 Q0.9 17.4 0.9 15.2 V11"></path><circle cx="11" cy="11.5" r="5.2"></circle><path d="M15.1 15.3 L18.9 19.1"></path></g><g fill="#006BB8"><rect x="2.8" y="3.2" width="1" height="1"></rect><rect x="5.1" y="3.2" width="1" height="1"></rect><rect x="7.7" y="3.2" width="1" height="1"></rect><rect x="10.1" y="3.2" width="1" height="1"></rect><rect x="12.7" y="3.2" width="1" height="1"></rect><rect x="2.8" y="5.6" width="1" height="1"></rect><rect x="5.1" y="5.6" width="1" height="1"></rect><rect x="2.8" y="8.2" width="1" height="1"></rect><rect x="2.8" y="10.6" width="1" height="1"></rect><rect x="2.8" y="13.4" width="1" height="1"></rect></g></svg>
<div class="c" style="left:58px;width:238px"><span style="letter-spacing: 0.189px;">Feb 2, 2026 @ 22:06:13.139</span></div>
<div class="c lnk b" style="left:312.5px;width:97px;letter-spacing:.05px">LINUX-WAZUH_AGENT</div>
<div class="c" style="left:425px;width:224px"><span style="letter-spacing: 0.432px;">Multiple web server 400 ...</span></div>
<div class="c" style="left:659px;width:100px">10</div>
<div class="c lnk b" style="left:775px;width:100px"><span style="letter-spacing: 1.349px;">31151</span></div>
<div class="c" style="left:891.5px;width:130px"><span style="letter-spacing: 0.305px;">10.10.10.40</span></div>
<div class="c lnk" style="left:1037.5px;width:216px"><span style="letter-spacing: 0.806px;">/system/</span></div>
<div class="c" style="left:1270.5px;width:635px;-webkit-mask-image:linear-gradient(90deg,#000 615px,rgba(0,0,0,.08) 629px)"><span style="letter-spacing: 0.469px;">10.10.10.40 - - [02/Feb/2026:21:06:11 +0000] "GET /system/ HTTP/1.1" 4...</span></div>
</div>
<div class="row" style="top:679.0px">
<div class="vl" style="left:49px"></div>
<div class="vl" style="left:304px"></div>
<div class="vl" style="left:417px"></div>
<div class="vl" style="left:650px"></div>
<div class="vl" style="left:766px"></div>
<div class="vl" style="left:883px"></div>
<div class="vl" style="left:1029px"></div>
<div class="vl" style="left:1262px"></div>
<svg class="insp" width="21" height="21" viewBox="0 0 21 21"><g fill="none" stroke="#006BB8" stroke-width="1.3" stroke-linecap="round"><path d="M0.9 11 V3.4 Q0.9 1.2 3.1 1.2 H15.1 Q17.3 1.2 17.3 3.4 V4"></path><path d="M4 17.4 H3.1 Q0.9 17.4 0.9 15.2 V11"></path><circle cx="11" cy="11.5" r="5.2"></circle><path d="M15.1 15.3 L18.9 19.1"></path></g><g fill="#006BB8"><rect x="2.8" y="3.2" width="1" height="1"></rect><rect x="5.1" y="3.2" width="1" height="1"></rect><rect x="7.7" y="3.2" width="1" height="1"></rect><rect x="10.1" y="3.2" width="1" height="1"></rect><rect x="12.7" y="3.2" width="1" height="1"></rect><rect x="2.8" y="5.6" width="1" height="1"></rect><rect x="5.1" y="5.6" width="1" height="1"></rect><rect x="2.8" y="8.2" width="1" height="1"></rect><rect x="2.8" y="10.6" width="1" height="1"></rect><rect x="2.8" y="13.4" width="1" height="1"></rect></g></svg>
<div class="c" style="left:58px;width:238px"><span style="letter-spacing: 0.189px;">Feb 2, 2026 @ 22:06:13.136</span></div>
<div class="c lnk b" style="left:312.5px;width:97px;letter-spacing:.05px">LINUX-WAZUH_AGENT</div>
<div class="c" style="left:425px;width:224px"><span style="letter-spacing: 0.382px;">Web server 400 error co...</span></div>
<div class="c" style="left:659px;width:100px">5</div>
<div class="c lnk b" style="left:775px;width:100px"><span style="letter-spacing: 1.349px;">31101</span></div>
<div class="c" style="left:891.5px;width:130px"><span style="letter-spacing: 0.305px;">10.10.10.40</span></div>
<div class="c lnk" style="left:1037.5px;width:216px"><span style="letter-spacing: 0.763px;">/system/frand2</span></div>
<div class="c" style="left:1270.5px;width:635px;-webkit-mask-image:linear-gradient(90deg,#000 615px,rgba(0,0,0,.08) 629px)"><span style="letter-spacing: 0.49px;">10.10.10.40 - - [02/Feb/2026:21:06:11 +0000] "GET /system/frand2 HTTP/...</span></div>
</div>
<div class="row" style="top:721.5px">
<div class="vl" style="left:49px"></div>
<div class="vl" style="left:304px"></div>
<div class="vl" style="left:417px"></div>
<div class="vl" style="left:650px"></div>
<div class="vl" style="left:766px"></div>
<div class="vl" style="left:883px"></div>
<div class="vl" style="left:1029px"></div>
<div class="vl" style="left:1262px"></div>
<svg class="insp" width="21" height="21" viewBox="0 0 21 21"><g fill="none" stroke="#006BB8" stroke-width="1.3" stroke-linecap="round"><path d="M0.9 11 V3.4 Q0.9 1.2 3.1 1.2 H15.1 Q17.3 1.2 17.3 3.4 V4"></path><path d="M4 17.4 H3.1 Q0.9 17.4 0.9 15.2 V11"></path><circle cx="11" cy="11.5" r="5.2"></circle><path d="M15.1 15.3 L18.9 19.1"></path></g><g fill="#006BB8"><rect x="2.8" y="3.2" width="1" height="1"></rect><rect x="5.1" y="3.2" width="1" height="1"></rect><rect x="7.7" y="3.2" width="1" height="1"></rect><rect x="10.1" y="3.2" width="1" height="1"></rect><rect x="12.7" y="3.2" width="1" height="1"></rect><rect x="2.8" y="5.6" width="1" height="1"></rect><rect x="5.1" y="5.6" width="1" height="1"></rect><rect x="2.8" y="8.2" width="1" height="1"></rect><rect x="2.8" y="10.6" width="1" height="1"></rect><rect x="2.8" y="13.4" width="1" height="1"></rect></g></svg>
<div class="c" style="left:58px;width:238px"><span style="letter-spacing: 0.189px;">Feb 2, 2026 @ 22:06:13.134</span></div>
<div class="c lnk b" style="left:312.5px;width:97px;letter-spacing:.05px">LINUX-WAZUH_AGENT</div>
<div class="c" style="left:425px;width:224px"><span style="letter-spacing: 0.382px;">Web server 400 error co...</span></div>
<div class="c" style="left:659px;width:100px">5</div>
<div class="c lnk b" style="left:775px;width:100px"><span style="letter-spacing: 1.349px;">31101</span></div>
<div class="c" style="left:891.5px;width:130px"><span style="letter-spacing: 0.305px;">10.10.10.40</span></div>
<div class="c lnk" style="left:1037.5px;width:216px"><span style="letter-spacing: 0.65px;">/system/randomfile1</span></div>
<div class="c" style="left:1270.5px;width:635px;-webkit-mask-image:linear-gradient(90deg,#000 615px,rgba(0,0,0,.08) 629px)"><span style="letter-spacing: 0.5px;">10.10.10.40 - - [02/Feb/2026:21:06:11 +0000] "GET /system/randomfile1 ...</span></div>
</div>
<div class="hl" style="top:83.8px"></div>
<div class="hl" style="top:126.3px"></div>
<div class="hl" style="top:168.8px"></div>
<div class="hl" style="top:211.3px"></div>
<div class="hl" style="top:253.8px"></div>
<div class="hl" style="top:296.3px"></div>
<div class="hl" style="top:338.8px"></div>
<div class="hl" style="top:381.3px"></div>
<div class="hl" style="top:423.8px"></div>
<div class="hl" style="top:466.3px"></div>
<div class="hl" style="top:508.8px"></div>
<div class="hl" style="top:551.3px"></div>
<div class="hl" style="top:593.8px"></div>
<div class="hl" style="top:636.3px"></div>
<div class="hl" style="top:678.8px"></div>
<div class="hl" style="top:721.3px"></div>
<div class="hl" style="top:763.8px"></div>
<div class="abs" style="left:1906px;top:0;width:1px;height:749px;background:#D3DAE6"></div>
<div class="abs" style="left:0;top:0;width:1px;height:749px;background:#D3DAE6"></div>
<div class="abs" style="left:1907px;top:0;width:13px;height:749px;background:#fff"></div>
<svg class="abs" style="left:1907px;top:3px" width="13" height="8" viewBox="0 0 13 8"><path d="M2 6.8 L6.5 2 L11 6.8 Z" fill="#A9ACB6"></path></svg>
<div class="abs" style="left:1910px;top:15px;width:7px;height:134px;border-radius:3.5px;background:#B2B5BF"></div>
</div>
<div id="foot" class="abs"></div>
<div class="t" style="left: 11.5px; top: 936.8px; letter-spacing: 0.215px;">Rows per page: 100</div>
<svg class="abs" style="left:182px;top:941.5px" width="14" height="10" viewBox="0 0 14 10"><path d="M1.8 2.8 L7 7.6 L12.2 2.8" fill="none" stroke="#343741" stroke-width="1.2"></path></svg>
<svg class="abs" style="left:1627px;top:937px" width="16" height="20" viewBox="0 0 16 20"><path d="M11.5 2.5 L4.5 9.7 L11.5 16.9" fill="none" stroke="#343741" stroke-width="1.3"></path></svg>
<div class="t" style="left:1661.5px;top:936.5px;color:#006BB8;font-weight:700;text-decoration:underline;text-underline-offset:1.5px;text-decoration-thickness:1.5px">1</div>
<div class="t" style="left:1692px;top:936.5px;">2</div>
<div class="t" style="left:1725px;top:936.5px;">3</div>
<div class="t" style="left:1757px;top:936.5px;">4</div>
<div class="t" style="left:1790.5px;top:936.5px;">5</div>
<div class="t" style="left:1857.5px;top:936.5px;letter-spacing:1px">49</div>
<div class="t" style="left:1822px;top:936.5px;color:#98A2B3;letter-spacing:.5px">...</div>
<svg class="abs" style="left:1897px;top:937px" width="16" height="20" viewBox="0 0 16 20"><path d="M4.5 2.5 L11.5 9.7 L4.5 16.9" fill="none" stroke="#343741" stroke-width="1.3"></path></svg>
<div class="abs" style="left:0;top:970px;width:1920px;height:1px;background:#fff"></div>
<div id="bot" class="abs"></div>
<div class="abs" style="left:1238px;top:971px;width:61px;height:2px;background:#2B2B2B"></div>
</body></html>
